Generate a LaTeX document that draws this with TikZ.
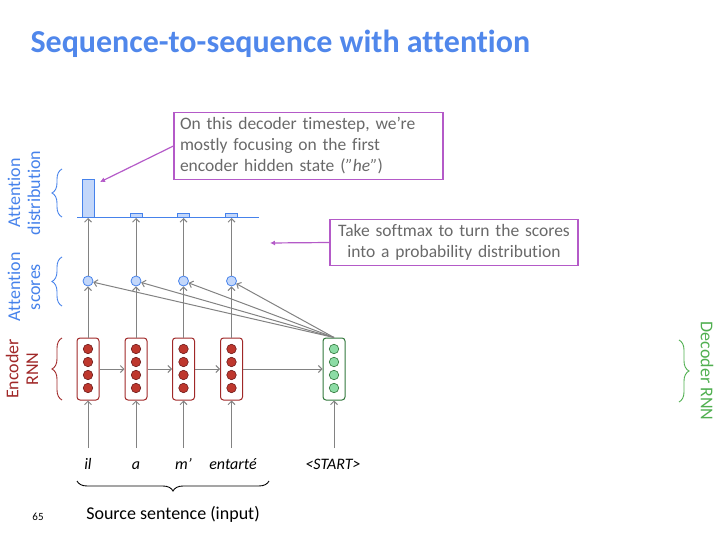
\documentclass[tikz,border=0pt]{standalone}
\usepackage{fontspec}
\setmainfont{Carlito}[Ligatures={NoCommon}]
\usetikzlibrary{arrows.meta,decorations.pathreplacing}

\definecolor{titleblue}{RGB}{80,135,235}
\definecolor{attblue}{RGB}{70,130,235}
\definecolor{scorefill}{RGB}{195,215,250}
\definecolor{encred}{RGB}{160,40,40}
\definecolor{dotred}{RGB}{190,55,45}
\definecolor{decgreen}{RGB}{50,120,60}
\definecolor{dotgreen}{RGB}{140,220,165}
\definecolor{labgreen}{RGB}{80,175,80}
\definecolor{callpurple}{RGB}{180,90,200}
\definecolor{arrgray}{RGB}{130,130,130}
\definecolor{txtgray}{RGB}{105,105,105}

\begin{document}
\begin{tikzpicture}[x=1pt, y=-1pt,
  enccell/.style={draw=encred, line width=1pt, rounded corners=3pt, minimum width=22pt, minimum height=62pt, inner sep=0pt, fill=white},
  deccell/.style={enccell, draw=decgreen},
  encdot/.style={circle, draw=encred!70!black, fill=dotred, minimum size=9.5pt, inner sep=0pt, line width=0.6pt},
  decdot/.style={encdot, draw=decgreen, fill=dotgreen},
  score/.style={circle, draw=attblue, fill=scorefill, minimum size=10pt, inner sep=0pt, line width=0.8pt},
  bar/.style={draw=attblue, fill=scorefill, minimum width=12pt, inner sep=0pt, anchor=south, line width=0.8pt},
  word/.style={font=\itshape\fontsize{16}{19}\selectfont, inner sep=0pt, anchor=base},
  callout/.style={draw=callpurple, line width=1.2pt, text=txtgray, font=\fontsize{17.5}{21}\selectfont, inner xsep=6pt, inner ysep=5pt},
  flow/.style={draw=arrgray, line width=1pt, -{Straight Barb[length=3.5pt,width=7pt]}},
  point/.style={draw=callpurple, line width=1.2pt, -{Latex[length=5pt,width=5pt]}},
  side/.style={align=center, font=\fontsize{18}{20}\selectfont},
  curly/.style={decorate, decoration={brace, amplitude=10pt}, line width=0.9pt}
]
\useasboundingbox (0,0) rectangle (720,540);
%
% --- Title ---
\node[font=\bfseries\fontsize{32}{36}\selectfont, text=titleblue, anchor=west] (title) at (27,44) {Sequence-to-sequence with attention};
%
% --- Encoder and decoder cells ---
\node[enccell] (e1) at (88,369) {};
\node[enccell] (e2) at (136,369) {};
\node[enccell] (e3) at (183.5,369) {};
\node[enccell] (e4) at (231.5,369) {};
\node[deccell] (d1) at (334,369) {};
\foreach \c/\x in {e1/88,e2/136,e3/183.5,e4/231.5}
  \foreach \k/\y in {1/349,2/362,3/375,4/388}
    \node[encdot] (\c d\k) at (\x,\y) {};
\foreach \k/\y in {1/349,2/362,3/375,4/388}
  \node[decdot] (d1d\k) at (334,\y) {};
%
% --- Attention scores ---
\node[score] (s1) at (88,281) {};
\node[score] (s2) at (136,281) {};
\node[score] (s3) at (183.5,281) {};
\node[score] (s4) at (231.5,281) {};
%
% --- Attention distribution ---
\coordinate (bl) at (77,218);
\coordinate (br) at (259,218);
\draw[attblue, line width=1pt] (bl) -- (br);
\node[bar, minimum height=38pt] (b1) at (88,218) {};
\node[bar, minimum height=4pt] (b2) at (136,218) {};
\node[bar, minimum height=4pt] (b3) at (183.5,218) {};
\node[bar, minimum height=4pt] (b4) at (231.5,218) {};
%
% --- Source words ---
\node[word] (w1) at (88,469) {il};
\node[word] (w2) at (136,469) {a};
\node[word] (w3) at (183.5,469) {m’};
\node[word] (w4) at (233,469) {entarté};
\node[word] (w5) at (333,469) {<START>};
\coordinate (i1) at (88,448);
\coordinate (i2) at (136,448);
\coordinate (i3) at (183.5,448);
\coordinate (i4) at (231.5,448);
\coordinate (i5) at (334,448);
%
% --- Edges ---
\draw[flow] (i1) -- (e1);
\draw[flow] (i2) -- (e2);
\draw[flow] (i3) -- (e3);
\draw[flow] (i4) -- (e4);
\draw[flow] (i5) -- (d1);
\draw[flow] (e1) -- (e2);
\draw[flow] (e2) -- (e3);
\draw[flow] (e3) -- (e4);
\draw[flow] (e4) -- (d1);
\draw[flow] (e1) -- (s1);
\draw[flow] (e2) -- (s2);
\draw[flow] (e3) -- (s3);
\draw[flow] (e4) -- (s4);
\draw[flow] (d1.north) -- (s1);
\draw[flow] (d1.north) -- (s2);
\draw[flow] (d1.north) -- (s3);
\draw[flow] (d1.north) -- (s4);
\draw[flow] (s1) -- (b1.south);
\draw[flow] (s2) -- (b2.south);
\draw[flow] (s3) -- (b3.south);
\draw[flow] (s4) -- (b4.south);
%
% --- Braces and side labels ---
\draw[curly, attblue] (62,217) -- (62,169);
\draw[curly, attblue] (62,306) -- (62,257);
\draw[curly, encred] (62,400) -- (62,338);
\draw[curly, labgreen] (679,340) -- (679,402);
\draw[curly, black] (269,481) -- (77,481);
\node[side, text=attblue, rotate=90] (ldist) at (24,193) {Attention\\distribution};
\node[side, text=attblue, rotate=90] (lscore) at (24,287) {Attention\\scores};
\node[side, text=encred, rotate=90] (lenc) at (22,369) {Encoder\\RNN};
\node[side, text=labgreen, rotate=-90] (ldec) at (707,371) {Decoder RNN};
\node[font=\fontsize{18}{21}\selectfont] (src) at (173,514) {Source sentence (input)};
\node[font=\fontsize{11}{13}\selectfont] (pg) at (38,517) {65};
%
% --- Callouts ---
\node[callout, text width=257pt, align=left] (c1) at (308.5,146) {On this decoder timestep, we’re\\mostly focusing on the first\\encoder hidden state (\textit{”he”})};
\node[callout, text width=236pt, align=center] (c2) at (454,242.5) {Take softmax to turn the scores\\into a probability distribution};
\coordinate (t1) at (100,182);
\coordinate (t2) at (270,243);
\draw[point] (c1.west) -- (t1);
\draw[point] (c2.west) -- (t2);
%
\end{tikzpicture}
\end{document}
